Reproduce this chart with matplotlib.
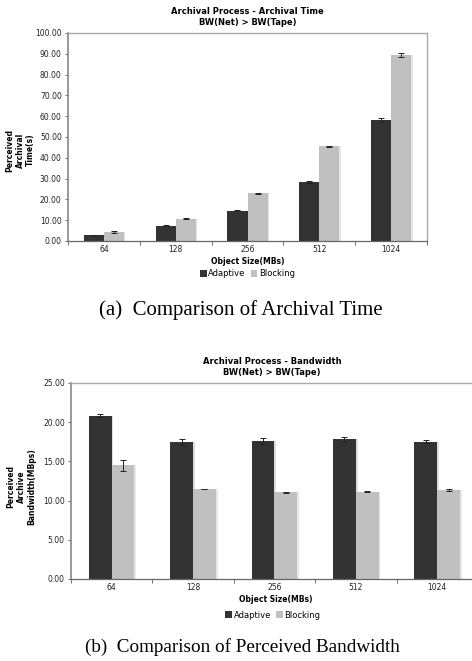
import matplotlib
matplotlib.use("Agg")
import matplotlib.pyplot as plt
import numpy as np

categories = ["64", "128", "256", "512", "1024"]
series_names = ["Adaptive", "Blocking"]

time_adaptive = [2.9, 7.3, 14.5, 28.5, 58.3]
time_blocking = [4.3, 10.8, 23.0, 45.5, 89.6]
time_adaptive_err = [0.2, 0.2, 0.3, 0.4, 0.9]
time_blocking_err = [0.4, 0.2, 0.2, 0.3, 0.9]

bw_adaptive = [20.8, 17.5, 17.6, 17.8, 17.5]
bw_blocking = [14.5, 11.5, 11.05, 11.15, 11.35]
bw_adaptive_err = [0.2, 0.4, 0.35, 0.3, 0.2]
bw_blocking_err = [0.7, 0.02, 0.03, 0.1, 0.1]

time_ticks = [0, 10, 20, 30, 40, 50, 60, 70, 80, 90, 100]
bw_ticks = [0, 5, 10, 15, 20, 25]

DARK = "#333333"
LIGHT = "#c0c0c0"
W, H = 472.0, 661.0

fig = plt.figure(figsize=(4.72, 6.61), dpi=100)

def draw(ax, a, b, ae, be, ticks, title, ylabel, width, xlim):
    x = np.arange(len(categories))
    ax.bar(x - width / 2 + 0.02, a, width, color="#dddddd", zorder=1, linewidth=0)
    ax.bar(x + width / 2 + 0.02, b, width, color="#e6e6e6", zorder=1, linewidth=0)
    ax.bar(x - width / 2, a, width, color=DARK, label=series_names[0], zorder=2, linewidth=0)
    ax.bar(x + width / 2, b, width, color=LIGHT, label=series_names[1], zorder=2, linewidth=0)
    ax.errorbar(x - width / 2, a, yerr=ae, fmt="none", ecolor="#222222", elinewidth=0.7, capsize=2.2, capthick=0.7, zorder=3)
    ax.errorbar(x + width / 2, b, yerr=be, fmt="none", ecolor="#222222", elinewidth=0.7, capsize=2.2, capthick=0.7, zorder=3)
    ax.set_xlim(*xlim)
    ax.set_ylim(ticks[0], ticks[-1])
    ax.set_yticks(ticks)
    ax.set_yticklabels(["%.2f" % t for t in ticks], fontsize=5.5, color="#222222")
    ax.set_xticks(x)
    ax.set_xticklabels(categories, fontsize=5.5, color="#222222")
    ax.set_xticks(np.arange(len(categories) + 1) - 0.5, minor=True)
    ax.tick_params(axis="x", which="major", length=0, pad=3)
    ax.tick_params(axis="x", which="minor", length=3, width=0.6, color="#555555", direction="out")
    ax.tick_params(axis="y", length=2.5, width=0.6, color="#555555", pad=2)
    for s in ["top", "right"]:
        ax.spines[s].set_color("#aaaaaa")
        ax.spines[s].set_linewidth(1.0)
    ax.spines["left"].set_color("#888888")
    ax.spines["left"].set_linewidth(1.2)
    ax.spines["bottom"].set_color("#666666")
    ax.spines["bottom"].set_linewidth(0.9)
    ax.set_title(title, fontsize=6, fontweight="bold", pad=6, linespacing=1.3)
    ax.set_xlabel("Object Size(MBs)", fontsize=5.5, fontweight="bold", labelpad=2)
    ax.set_ylabel(ylabel, fontsize=5.5, fontweight="bold", linespacing=1.2)
    return ax

# top chart
top_box = (68, 33, 427, 241)
ax1 = fig.add_axes([top_box[0] / W, 1 - top_box[3] / H, (top_box[2] - top_box[0]) / W,
                    (top_box[3] - top_box[1]) / H])
draw(ax1, time_adaptive, time_blocking, time_adaptive_err, time_blocking_err, time_ticks,
     "Archival Process - Archival Time\nBW(Net) > BW(Tape)", "Perceived\nArchival\nTime(s)",
     0.28, (-0.5, 4.5))
ax1.yaxis.set_label_coords((35 - 68) / (427 - 68), (241 - 150) / (241 - 33))
ax1.legend(loc="center", bbox_to_anchor=(0.5, -(274 - 241) / (241 - 33)), ncol=2, frameon=False,
           fontsize=6, handlelength=0.8, handleheight=0.8, handletextpad=0.2, columnspacing=0.6)

# bottom chart
bot_box = (71, 383, 481, 579)
ax2 = fig.add_axes([bot_box[0] / W, 1 - bot_box[3] / H, (bot_box[2] - bot_box[0]) / W,
                    (bot_box[3] - bot_box[1]) / H])
draw(ax2, bw_adaptive, bw_blocking, bw_adaptive_err, bw_blocking_err, bw_ticks,
     "Archival Process - Bandwidth\nBW(Net) > BW(Tape)", "Perceived\nArchive\nBandwidth(MBps)",
     0.28, (-0.463, 4.537))
ax2.title.set_position((0.5 - 4 / 410, 1.0))
ax2.yaxis.set_label_coords((36 - 71) / 410, (579 - 487) / (579 - 383))
ax2.legend(loc="center", bbox_to_anchor=((273 - 71) / 410, -(615 - 579) / (579 - 383)), ncol=2,
           frameon=False, fontsize=6, handlelength=0.8, handleheight=0.8, handletextpad=0.2,
           columnspacing=0.6)

fig.text(241 / W, 1 - 310 / H, "(a)  Comparison of Archival Time", ha="center", va="center",
         fontsize=15, family="Liberation Serif")
fig.text(242 / W, 1 - 647 / H, "(b)  Comparison of Perceived Bandwidth", ha="center", va="center",
         fontsize=13.8, family="Liberation Serif")

fig.savefig("out.png", dpi=100)
